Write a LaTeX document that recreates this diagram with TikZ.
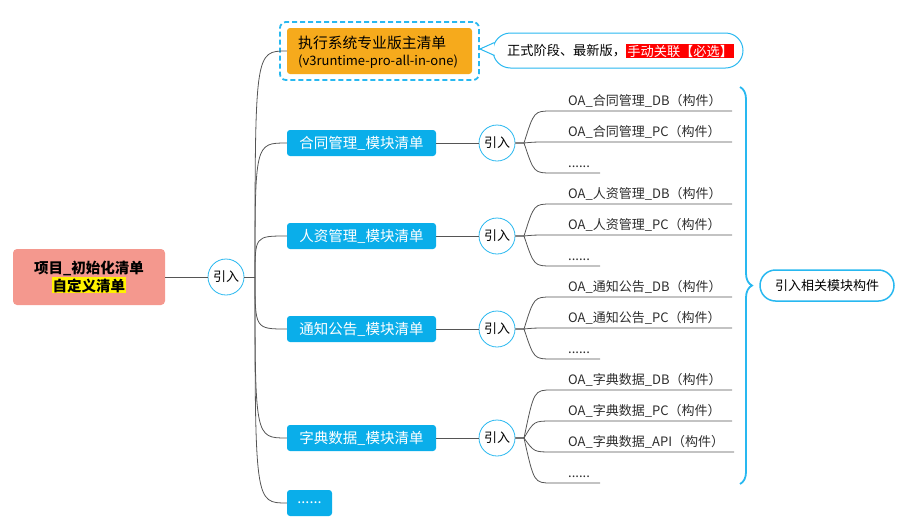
\documentclass[tikz,border=0pt]{standalone}
\usepackage{fontspec}
\setmainfont{Noto Sans CJK SC}
\usetikzlibrary{decorations.pathreplacing,shapes.misc}
\definecolor{modblue}{RGB}{10,174,234}
\definecolor{ringblue}{RGB}{40,184,240}
\definecolor{rootred}{RGB}{244,152,142}
\definecolor{orng}{RGB}{246,170,28}
\definecolor{linegray}{RGB}{85,85,85}
\definecolor{txtgray}{RGB}{45,45,45}
\begin{document}
\begin{tikzpicture}[x=1pt,y=-1pt,
  conn/.style={draw=linegray,line width=0.8pt},
  ring/.style={circle,draw=ringblue,line width=0.8pt,fill=white,minimum size=36pt,inner sep=0pt,font=\fontsize{13}{14}\selectfont},
  modbox/.style={rectangle,rounded corners=3pt,fill=modblue,text=white,minimum width=149pt,minimum height=26pt,inner sep=0pt,font=\fontsize{14.5}{16}\selectfont},
  leaf/.style={anchor=base west,inner sep=0pt,font=\fontsize{13}{14}\selectfont,text=txtgray}]
\useasboundingbox (0,0) rectangle (924,531);

% root
\node[rectangle,rounded corners=4pt,fill=rootred,minimum width=152pt,minimum height=56pt,inner sep=0pt,align=center,font=\bfseries\fontsize{14.5}{19}\selectfont] (root) at (89,277) {项目\_初始化清单\\[-1pt]{\setlength{\fboxsep}{1pt}\colorbox{yellow}{自定义清单}}};
\node[ring] (r0) at (226,277) {引入};
\draw[conn] (root.east) -- (r0.west);
\coordinate (T) at (255,277);
\draw[conn] (r0.east) -- (T);

% top box
\node[rectangle,rounded corners=3pt,fill=orng,minimum width=185pt,minimum height=46pt,inner sep=0pt] (top) at (379.5,51) {};
\node[anchor=west,inner sep=0pt,text=black,font=\fontsize{14.8}{16}\selectfont] (topl1) at (298,43) {执行系统专业版主清单};
\node[anchor=west,inner sep=0pt,text=black,font=\fontsize{13}{14}\selectfont] (topl2) at (298,62) {(v3runtime-pro-all-in-one)};
\node[rectangle,rounded corners=6pt,draw=ringblue,line width=1.8pt,dash pattern=on 5pt off 3pt,minimum width=199pt,minimum height=58pt,inner sep=0pt] (topframe) at (379.5,51) {};

% callout
\node[rounded rectangle,draw=ringblue,line width=1pt,fill=white,minimum width=250pt,minimum height=35pt,inner sep=0pt] (note) at (618,50.5) {};
\coordinate (tip) at (480,49);
\fill[white] (494,43) -- (tip) -- (494,55) -- cycle;
\draw[ringblue,line width=1pt,line join=round] (494.5,42.5) -- (tip) -- (494.5,55.5);
\node[anchor=west,inner sep=0pt,font=\fontsize{13.2}{14}\selectfont] (notetxt) at (507,51) {正式阶段、最新版，};
\node[anchor=west,inner sep=1pt,fill=red,text=white,font=\fontsize{13.2}{14}\selectfont] (must) at (notetxt.east) {手动关联【必选】};

% modules
\node[modbox] (m1) at (361.5,143) {合同管理\_模块清单};
\node[modbox] (m2) at (361.5,236) {人资管理\_模块清单};
\node[modbox] (m3) at (361.5,329) {通知公告\_模块清单};
\node[modbox] (m4) at (361.5,438) {字典数据\_模块清单};
\node[modbox,minimum width=45pt] (m5) at (309.5,503) {......};

\foreach \n in {m1,m2,m3,m4,m5}{
  \draw[conn] (T) .. controls (T |- \n.west) .. (\n.west);
}
\draw[conn] (T) .. controls (255,51) .. (top.west);

% rings
\foreach \n/\y in {1/143,2/236,3/329,4/438}{
  \node[ring] (q\n) at (497,\y) {引入};
  \draw[conn] (m\n.east) -- (q\n.west);
}

% leaves
\foreach \q/\yr/\yl/\xe/\t in {
  1/143/111/732/{OA\_合同管理\_DB（构件）},
  1/143/142/732/{OA\_合同管理\_PC（构件）},
  1/143/173/600/{......},
  2/236/204/732/{OA\_人资管理\_DB（构件）},
  2/236/235/732/{OA\_人资管理\_PC（构件）},
  2/236/266/600/{......},
  3/329/297/732/{OA\_通知公告\_DB（构件）},
  3/329/328/732/{OA\_通知公告\_PC（构件）},
  3/329/359/600/{......},
  4/438/390/732/{OA\_字典数据\_DB（构件）},
  4/438/421/732/{OA\_字典数据\_PC（构件）},
  4/438/452/734/{OA\_字典数据\_API（构件）},
  4/438/483/600/{......}}{
  \draw[conn] (q\q.east) -- (524,\yr) .. controls (534,\yl) .. (552,\yl) -- (\xe,\yl);
  \node[leaf] at (568,\yl-6) {\t};
}

% brace and summary
\coordinate (b1) at (740,87);
\coordinate (b2) at (740,484);
\draw[ringblue,line width=1.8pt,decorate,decoration={brace,amplitude=12pt}] (b1) -- (b2);
\node[rounded rectangle,draw=ringblue,line width=1.5pt,fill=white,minimum width=134pt,minimum height=31pt,inner sep=0pt,font=\fontsize{13}{14}\selectfont] (sum) at (827,285.5) {引入相关模块构件};
\end{tikzpicture}
\end{document}
